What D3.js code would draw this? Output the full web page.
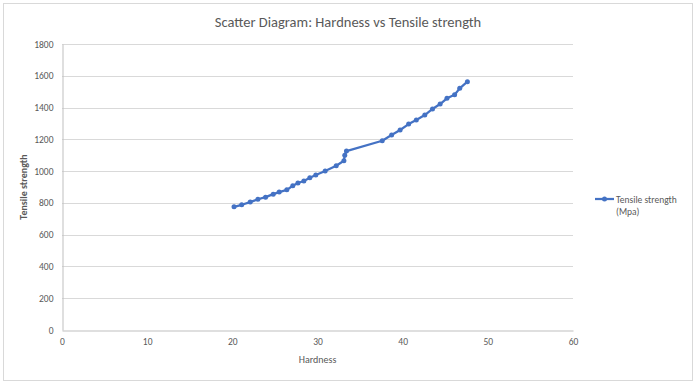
<!DOCTYPE html>
<html>
<head>
<meta charset="utf-8">
<script src="https://cdn.jsdelivr.net/npm/d3@7/dist/d3.min.js"></script>
<style>
  body { margin: 0; background: #fff; }
  text { font-family: Calibri, Carlito, "Liberation Sans", sans-serif; }
</style>
</head>
<body>
<svg id="chart" width="697" height="385"></svg>
<script>
// data
var hardness = [20.2, 21.1, 22.1, 23.0, 23.9, 24.8, 25.5, 26.4, 27.1, 27.7,
                28.4, 29.1, 29.8, 30.9, 32.2, 33.1, 33.2, 33.4,
                37.6, 38.7, 39.7, 40.7, 41.6, 42.6,
                43.5, 44.4, 45.2, 46.1, 46.7, 47.6];
var tensile = [775, 788, 805, 823, 836, 855, 868, 882, 908, 925,
               938, 958, 975, 1001, 1034, 1065, 1100, 1126,
               1191, 1227, 1259, 1296, 1322, 1353,
               1391, 1422, 1458, 1481, 1521, 1563];
var xTicks = [0, 10, 20, 30, 40, 50, 60];
var yTicks = [0, 200, 400, 600, 800, 1000, 1200, 1400, 1600, 1800];
var seriesName = ["Tensile strength", "(Mpa)"];

var svg = d3.select("#chart");
var blue = "#4472C4", grid = "#d9d9d9", lab = "#595959";

// chart area border
svg.append("rect").attr("x", 3.5).attr("y", 3.5).attr("width", 689).attr("height", 377)
    .attr("fill", "#fff").attr("stroke", grid);

var x = d3.scaleLinear().domain([0, 60]).range([62, 573]);
var y = d3.scaleLinear().domain([0, 1800]).range([330, 44]);

// gridlines
svg.append("g").selectAll("line").data(yTicks.slice(1)).enter().append("line")
    .attr("x1", x(0)).attr("x2", x(60))
    .attr("y1", function(d) { return Math.round(y(d)) + 0.5; })
    .attr("y2", function(d) { return Math.round(y(d)) + 0.5; })
    .attr("stroke", grid);

// axes
var xAxis = svg.append("g").attr("transform", "translate(0," + (Math.round(y(0)) + 0.5) + ")")
    .call(d3.axisBottom(x).tickValues(xTicks).tickSize(0).tickPadding(8));
var yAxis = svg.append("g").attr("transform", "translate(" + (Math.round(x(0)) + 0.5) + ",0)")
    .call(d3.axisLeft(y).tickValues(yTicks).tickFormat(d3.format("d")).tickSize(0).tickPadding(9));
[xAxis, yAxis].forEach(function(a) {
    a.select(".domain").attr("stroke", "#bfbfbf");
    a.selectAll("text").attr("fill", lab).style("font-size", "9.5px")
        .style("font-family", "Calibri, Carlito, 'Liberation Sans', sans-serif");
});

// title + axis titles
svg.append("text").attr("x", 348).attr("y", 27).attr("text-anchor", "middle")
    .attr("fill", lab).style("font-size", "14.5px")
    .text("Scatter Diagram: Hardness vs Tensile strength");
svg.append("text").attr("x", x(30)).attr("y", 363).attr("text-anchor", "middle")
    .attr("fill", lab).style("font-size", "10px").text("Hardness");
svg.append("text").attr("transform", "translate(27," + y(900) + ") rotate(-90)")
    .attr("text-anchor", "middle").attr("fill", lab).style("font-size", "10px")
    .style("font-weight", "bold").text("Tensile strength");

// series
var pts = hardness.map(function(h, i) { return [h, tensile[i]]; });
var line = d3.line().x(function(d) { return x(d[0]); }).y(function(d) { return y(d[1]); });
svg.append("path").datum(pts).attr("d", line)
    .attr("fill", "none").attr("stroke", blue).attr("stroke-width", 2.25)
    .attr("stroke-linejoin", "round");
svg.append("g").selectAll("circle").data(pts).enter().append("circle")
    .attr("cx", function(d) { return x(d[0]); })
    .attr("cy", function(d) { return y(d[1]); })
    .attr("r", 2.5).attr("fill", blue);

// legend
var lg = svg.append("g").attr("transform", "translate(595,199)");
lg.append("line").attr("x1", 0).attr("x2", 19).attr("y1", 0).attr("y2", 0)
    .attr("stroke", blue).attr("stroke-width", 2.25);
lg.append("circle").attr("cx", 9.5).attr("cy", 0).attr("r", 2.5).attr("fill", blue);
lg.selectAll("text.leg").data(seriesName).enter().append("text").attr("class", "leg")
    .attr("x", 21).attr("y", function(d, i) { return 4 + i * 12; })
    .attr("fill", lab).style("font-size", "9.5px")
    .text(function(d) { return d; });
</script>
</body>
</html>
